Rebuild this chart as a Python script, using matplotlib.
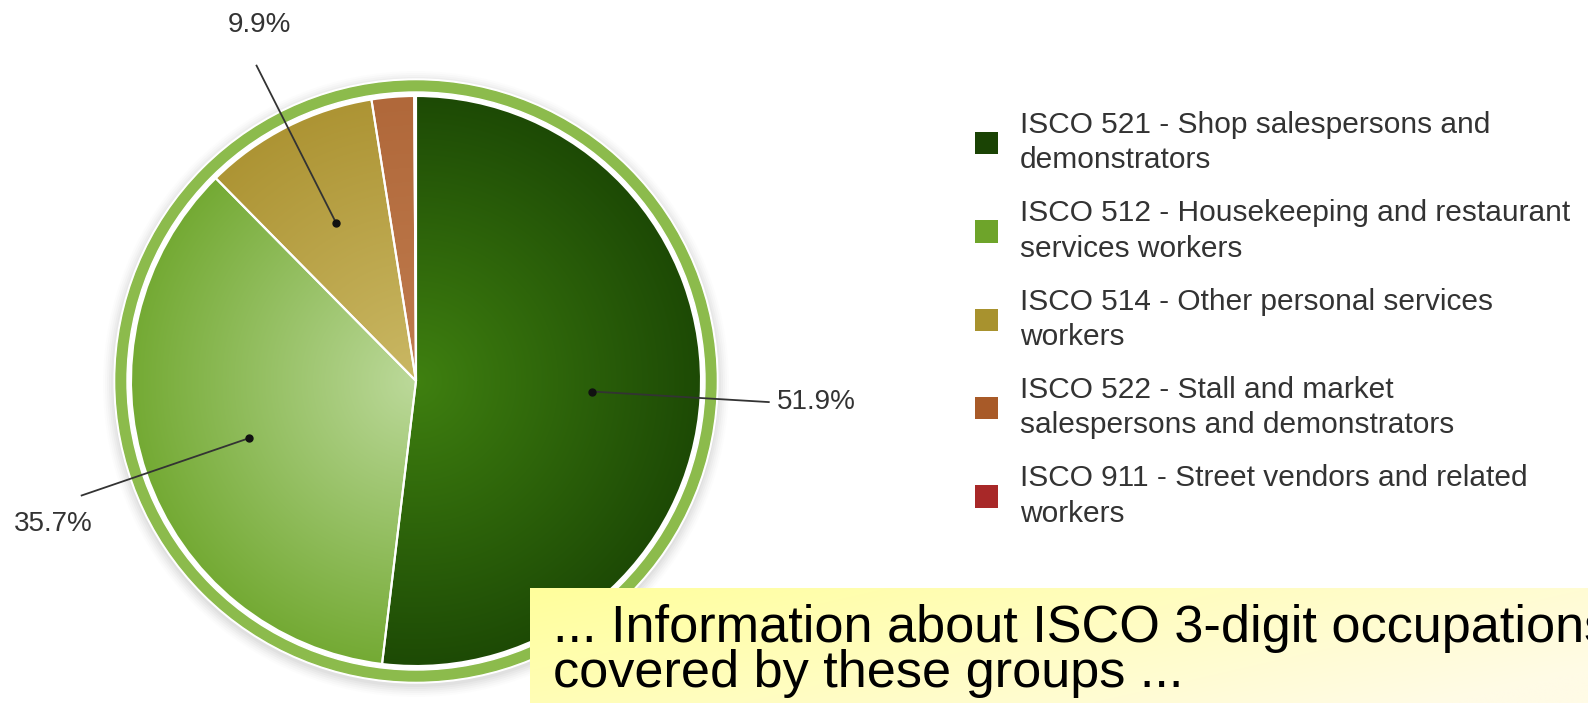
import numpy as np
import matplotlib
matplotlib.use('Agg')
import matplotlib.pyplot as plt
from matplotlib.colors import to_rgb
from matplotlib.patches import Patch, Circle

plt.rcParams['font.family'] = ['Liberation Sans', 'DejaVu Sans']

categories = ['ISCO 521 - Shop salespersons and\ndemonstrators',
              'ISCO 512 - Housekeeping and restaurant\nservices workers',
              'ISCO 514 - Other personal services\nworkers',
              'ISCO 522 - Stall and market\nsalespersons and demonstrators',
              'ISCO 911 - Street vendors and related\nworkers']
shares = [51.9, 35.7, 9.9, 2.4, 0.1]
legend_colors = ['#1a4304', '#6ea42a', '#a8922e', '#a85a28', '#a82828']
inner_colors = ['#3f8010', '#bcd99a', '#cab864', '#c07c4e', '#b03030']
outer_colors = ['#1d4a05', '#74aa34', '#ad9434', '#b0683a', '#a82828']
note = '... Information about ISCO 3-digit occupations\ncovered by these groups ...'

W, H = 1588, 703
fig = plt.figure(figsize=(W / 100, H / 100), dpi=100)
ax = fig.add_axes([0, 0, 1, 1])

cx, cy, R = 416, H - 381, 285

# shadow + outer ring
for k, a in zip(range(12, 0, -2), [0.02, 0.03, 0.04, 0.05, 0.06, 0.07]):
    ax.add_patch(Circle((cx, cy - 3), R + 16 + k, color='#888888', alpha=a, lw=0, zorder=0))
ax.add_patch(Circle((cx, cy), R + 17, color='white', zorder=0.5))
ax.add_patch(Circle((cx, cy), R + 15, color='#8cbb4c', zorder=0.6))
ax.add_patch(Circle((cx, cy), R + 4, color='white', zorder=0.7))

wedges, _ = ax.pie(shares, startangle=90, counterclock=False, radius=R,
                   center=(cx, cy), colors=outer_colors,
                   wedgeprops=dict(edgecolor='white', linewidth=1.5))

# radial gradient inside each wedge
n = 400
xs = np.linspace(cx - R, cx + R, n)
ys = np.linspace(cy - R, cy + R, n)
X, Y = np.meshgrid(xs, ys)
d = np.clip(np.hypot(X - cx, Y - cy) / R, 0, 1)[..., None]
for w, ci, co in zip(wedges, inner_colors, outer_colors):
    c0 = np.array(to_rgb(ci))
    c1 = np.array(to_rgb(co))
    img = c0 + (c1 - c0) * d
    im = ax.imshow(img, extent=(cx - R, cx + R, cy - R, cy + R), origin='lower',
                   zorder=2, interpolation='bilinear')
    im.set_clip_path(w)
    w.set_facecolor('none')
    w.set_zorder(3)

# percentage labels with leader lines
for w, s in zip(wedges, shares):
    if s < 5:
        continue
    th = np.deg2rad((w.theta1 + w.theta2) / 2)
    ux, uy = np.cos(th), np.sin(th)
    x0, y0 = cx + 0.62 * R * ux, cy + 0.62 * R * uy
    x1, y1 = cx + 1.24 * R * ux, cy + 1.24 * R * uy
    ax.plot([x0, x1], [y0, y1], color='#333333', lw=1.3, zorder=4)
    ax.plot(x0, y0, 'o', color='#111111', ms=5, zorder=5)
    if ux > 0.7:
        tx, ty, ha, va = x1 + 8, y1, 'left', 'center'
    elif uy > 0.7:
        tx, ty, ha, va = x1 + 3, y1 + 28, 'center', 'bottom'
    else:
        tx, ty, ha, va = x1 - 28, y1 - 16, 'center', 'top'
    ax.text(tx, ty, f'{s:.1f}%', ha=ha, va=va, fontsize=20, color='#333333', zorder=5)

# legend
handles = [Patch(facecolor=c, edgecolor='none') for c in legend_colors]
leg = fig.legend(handles, categories, loc='upper left', bbox_to_anchor=(975 / W, 1 - 111 / H),
                 frameon=False, fontsize=21.5, labelcolor='#333333',
                 handlelength=0.77, handleheight=0.77, handletextpad=0.73,
                 labelspacing=0.83, borderaxespad=0, borderpad=0)
for t in leg.get_texts():
    t.set_linespacing(1.34)

# yellow note box
bx0, by0 = 530, H - 588
gx = np.linspace(0, 1, 200)[None, :]
gy = np.linspace(0, 1, 60)[:, None]
t = np.clip(0.75 * gx + 0.35 * gy, 0, 1)[..., None]
top = np.array(to_rgb('#ffff9c'))
bot = np.array(to_rgb('#fffbe6'))
box = top + (bot - top) * t
ax.imshow(box, extent=(bx0, W, 0, by0), origin='upper', zorder=6,
          interpolation='bilinear')
ax.text(553, H - 687, note, fontsize=37.6, color='black', va='baseline',
        ha='left', linespacing=0.9, zorder=7)

ax.set_xlim(0, W)
ax.set_ylim(0, H)
ax.set_aspect('auto')
ax.axis('off')

fig.savefig('out.png', dpi=100, facecolor='white')
